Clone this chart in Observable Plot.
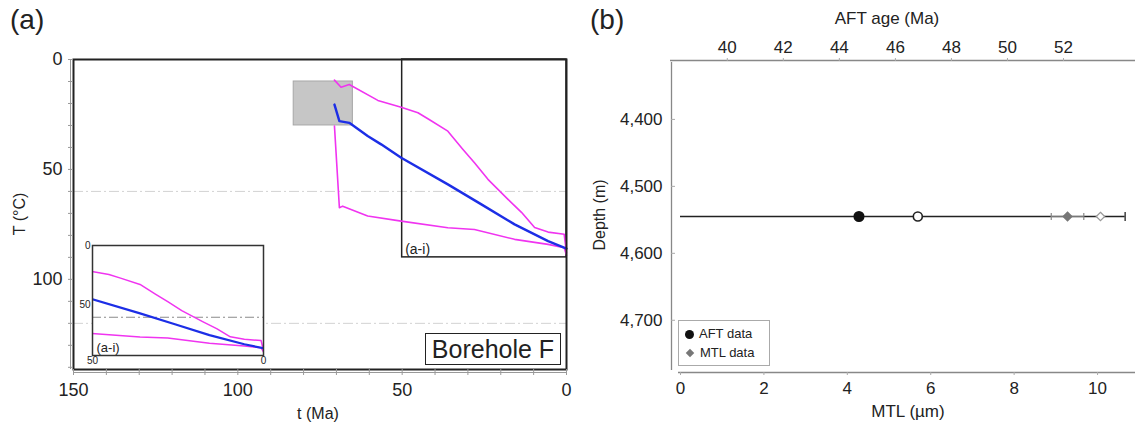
<!DOCTYPE html>
<html><head><meta charset="utf-8">
<script src="https://cdn.jsdelivr.net/npm/d3@7"></script>
<script src="https://cdn.jsdelivr.net/npm/@observablehq/plot@0.6"></script>
<style>
body{margin:0;background:#fff;font-family:"Liberation Sans",Arial,sans-serif;color:#222;}
#wrap{position:relative;width:1142px;height:431px;overflow:hidden;background:#fff;}
.abs{position:absolute;}
.abs svg{overflow:visible;max-width:none;}
.lbl{position:absolute;white-space:nowrap;color:#222;}
</style></head><body><div id="wrap"></div>
<script>
// ---------- Panel (a): thermal history ----------
const bestT    = [70.6, 69.1, 66.1, 60.5, 56.4, 50.3, 36.1, 25.9, 15.8, 5.6, 0];
const bestTemp = [20.5, 28.0, 28.8, 34.8, 38.6, 44.7, 56.8, 65.9, 75.0, 82.6, 86.0];
const coolT    = [70.6, 68.6, 66.1, 57.4, 50.3, 45.2, 41.8, 36.1, 31.5, 28.0, 23.9, 17.8, 13.7, 9.7, 5.6, 0.7, 0];
const coolTemp = [9.4, 12.6, 11.4, 18.6, 21.7, 24.2, 27.3, 32.6, 40.9, 47.0, 54.5, 63.6, 69.5, 76.4, 78.5, 79.5, 88];
const hotT     = [70.6, 69.1, 68.1, 60.5, 50.3, 36.1, 28.0, 15.8, 5.6, 0.7, 0];
const hotTemp  = [30.3, 67.4, 66.7, 71.2, 73.5, 76.5, 77.3, 81.8, 84.1, 85.6, 89];
const constraintT = [65, 83];
const constraintTemp = [10, 30];
const insetWindowT = [0, 50];
const insetWindowTemp = [0, 90];
const refTemps = [60, 120];
const insetRefTemps = [60];
const timeDomain = [150, 0];
const tempDomain = [0, 141];
const insetTempDomain = [0, 92];
const timeTicks = d3.range(0, 151, 10);
const tempTicks = d3.range(0, 141, 10);
const labelledTime = [0, 50, 100, 150];
const labelledTemp = [0, 50, 100];
const insetTimeTicks = [50, 0];
const insetTempTicks = [0, 50];

// ---------- Panel (b): AFT / MTL vs depth ----------
const sampleDepth = [4545];
const aftAge = [44.7];
const aftErr = [9.5];
const aftModel = [46.8];
const mtl = [9.28];
const mtlErr = [0.39];
const mtlModel = [10.07];
const ageDomain = [38.33, 54.57];
const mtlDomain = [0, 10.91];
const depthDomain = [4312, 4778];
const ageTicks = [40, 42, 44, 46, 48, 50, 52];
const mtlTicks = [0, 2, 4, 6, 8, 10];
const depthTicks = [4400, 4500, 4600, 4700];

const MAG = "#f034f0", BLUE = "#1c2ee6";
const zip = (a, b) => a.map((v, i) => ({t: v, T: b[i]}));
const best = zip(bestT, bestTemp), cool = zip(coolT, coolTemp), hot = zip(hotT, hotTemp);
const box = [{x1: constraintT[0], x2: constraintT[1], y1: constraintTemp[0], y2: constraintTemp[1]}];
const win = [{x1: insetWindowT[1], x2: insetWindowT[0], y1: insetWindowTemp[0], y2: insetWindowTemp[1]}];
const vbar = {draw(ctx, size) { const h = Math.sqrt(size) / 2; ctx.moveTo(0, -h); ctx.lineTo(0, h); }};
const FONT = "Liberation Sans, Arial, sans-serif";

const wrap = document.getElementById("wrap");
function place(node, left, top) {
  const d = document.createElement("div");
  d.className = "abs"; d.style.left = left + "px"; d.style.top = top + "px";
  d.appendChild(node); wrap.appendChild(d); return d;
}
function label(text, left, top, css) {
  const d = document.createElement("div");
  d.className = "lbl"; d.textContent = text;
  d.style.left = left + "px"; d.style.top = top + "px";
  Object.assign(d.style, css || {});
  wrap.appendChild(d); return d;
}

// main (a)
const plotA = Plot.plot({
  width: 580, height: 431,
  marginLeft: 73, marginRight: 14, marginTop: 59, marginBottom: 62,
  x: {domain: timeDomain, axis: null},
  y: {domain: tempDomain, reverse: true, axis: null},
  style: {fontFamily: FONT, fontSize: "18px", color: "#222", background: "transparent", overflow: "visible"},
  marks: [
    Plot.ruleY(refTemps, {stroke: "#d2d2d2", strokeDasharray: "10,3,2,3", strokeWidth: 1}),
    Plot.rect(box, {x1: "x1", x2: "x2", y1: "y1", y2: "y2", fill: "#c6c6c6", stroke: "#a6a6a6"}),
    Plot.rect(win, {x1: "x1", x2: "x2", y1: "y1", y2: "y2", fill: "none", stroke: "#222", strokeWidth: 1.5}),
    Plot.line(cool, {x: "t", y: "T", stroke: MAG, strokeWidth: 1.6}),
    Plot.line(hot, {x: "t", y: "T", stroke: MAG, strokeWidth: 1.6}),
    Plot.line(best, {x: "t", y: "T", stroke: BLUE, strokeWidth: 2.4}),
    Plot.text(win, {x: "x1", y: "y2", text: () => "(a-i)", dx: 3, dy: -3, textAnchor: "start", lineAnchor: "bottom", fontSize: 14}),
    Plot.ruleX([timeDomain[0]], {dx: -3, stroke: "#999"}),
    Plot.ruleY([tempDomain[1]], {dy: 3, stroke: "#999"}),
    Plot.frame({stroke: "#222", strokeWidth: 2}),
    Plot.axisX({ticks: timeTicks, tickFormat: d => labelledTime.includes(d) ? d : "", tickSize: 6, tickPadding: 8, stroke: "#999", label: null}),
    Plot.axisY({ticks: tempTicks, tickFormat: d => labelledTemp.includes(d) ? d : "", tickSize: 5, tickPadding: 6, stroke: "#999", label: null})
  ]
});
place(plotA, 0, 0);

// inset (a-i)
const plotInset = Plot.plot({
  width: 215, height: 135,
  marginLeft: 32, marginRight: 12, marginTop: 10, marginBottom: 15,
  x: {domain: [insetWindowT[1], insetWindowT[0]], axis: null},
  y: {domain: insetTempDomain, reverse: true, axis: null},
  style: {fontFamily: FONT, fontSize: "10px", color: "#222", background: "transparent", overflow: "visible"},
  marks: [
    Plot.frame({fill: "white", stroke: "none"}),
    Plot.ruleY(insetRefTemps, {stroke: "#8a8a8a", strokeDasharray: "9,3,2,3", strokeWidth: 1.2}),
    Plot.line(cool, {x: "t", y: "T", stroke: MAG, strokeWidth: 1.5, clip: true}),
    Plot.line(hot, {x: "t", y: "T", stroke: MAG, strokeWidth: 1.5, clip: true}),
    Plot.line(best, {x: "t", y: "T", stroke: BLUE, strokeWidth: 2.2, clip: true}),
    Plot.text(["(a-i)"], {frameAnchor: "bottom-left", dx: 4, dy: -4, textAnchor: "start", lineAnchor: "bottom", fontSize: 13}),
    Plot.frame({stroke: "#333", strokeWidth: 1.5}),
    Plot.axisX({ticks: insetTimeTicks, tickSize: 0, tickPadding: 1, label: null}),
    Plot.axisY({ticks: insetTempTicks, tickSize: 0, tickPadding: 2, label: null})
  ]
});
place(plotInset, 60, 235);

// labels (a)
label("(a)", 10, 4, {fontSize: "28px"});
label("t (Ma)", 318, 414, {fontSize: "16px", transform: "translate(-50%,-50%)"});
label("T (°C)", 20, 214, {fontSize: "16px", transform: "translate(-50%,-50%) rotate(-90deg)"});
label("Borehole F", 425, 333, {fontSize: "25px", width: "134px", height: "30px", lineHeight: "30px", textAlign: "center", border: "1.5px solid #222", background: "#fff"});

// (b) AFT layer (below)
const aftRows = aftAge.map((a, i) => ({depth: sampleDepth[i], age: a, lo: a - aftErr[i], hi: a + aftErr[i], model: aftModel[i]}));
const mtlRows = mtl.map((m, i) => ({depth: sampleDepth[i], mtl: m, lo: m - mtlErr[i], hi: m + mtlErr[i], model: mtlModel[i]}));

const plotAge = Plot.plot({
  width: 562, height: 431,
  marginLeft: 100, marginRight: 7, marginTop: 60, marginBottom: 59,
  x: {domain: ageDomain, axis: null},
  y: {domain: depthDomain, reverse: true, axis: null},
  style: {fontFamily: FONT, fontSize: "17px", color: "#222", background: "transparent", overflow: "visible"},
  marks: [
    Plot.ruleY([depthDomain[0]], {stroke: "#888", strokeWidth: 1.3, insetLeft: -10}),
    Plot.axisX({anchor: "top", ticks: ageTicks, tickSize: 3, tickPadding: 5, stroke: "#aaa", label: null}),
    Plot.ruleY(aftRows, {y: "depth", x1: "lo", x2: "hi", stroke: "#222", strokeWidth: 1.3, clip: true}),
    Plot.dot(aftRows, {x: "hi", y: "depth", symbol: vbar, r: 5, fill: "none", stroke: "#222", strokeWidth: 1.3}),
    Plot.dot(aftRows, {x: "age", y: "depth", r: 4.8, fill: "#111", stroke: "#111"}),
    Plot.dot(aftRows, {x: "model", y: "depth", r: 4.5, fill: "white", stroke: "#222", strokeWidth: 1.6})
  ]
});
place(plotAge, 580, 0);

// (b) MTL layer (above)
const plotMtl = Plot.plot({
  width: 562, height: 431,
  marginLeft: 100, marginRight: 7, marginTop: 60, marginBottom: 59,
  x: {domain: mtlDomain, axis: null},
  y: {domain: depthDomain, reverse: true, axis: null},
  style: {fontFamily: FONT, fontSize: "17px", color: "#222", background: "transparent", overflow: "visible"},
  marks: [
    Plot.ruleX([mtlDomain[0]], {stroke: "#888", strokeWidth: 1.3, dx: -9, insetTop: 2, insetBottom: 2}),
    Plot.ruleY([depthDomain[1]], {stroke: "#888", strokeWidth: 1.3, insetLeft: -2}),
    Plot.axisY({ticks: depthTicks, tickFormat: d3.format(","), tickSize: 4, tickPadding: 9, dx: -5, stroke: "#aaa", label: null}),
    Plot.axisX({ticks: mtlTicks, tickSize: 3, tickPadding: 6, stroke: "#aaa", label: null}),
    Plot.ruleY(mtlRows, {y: "depth", x1: "lo", x2: "hi", stroke: "#777", strokeWidth: 1}),
    Plot.dot(mtlRows, {x: "lo", y: "depth", symbol: vbar, r: 4, fill: "none", stroke: "#888", strokeWidth: 1.2}),
    Plot.dot(mtlRows, {x: "hi", y: "depth", symbol: vbar, r: 4, fill: "none", stroke: "#888", strokeWidth: 1.2}),
    Plot.dot(mtlRows, {x: "mtl", y: "depth", symbol: "diamond2", r: 3.8, fill: "#777", stroke: "#777"}),
    Plot.dot(mtlRows, {x: "model", y: "depth", symbol: "diamond2", r: 3.8, fill: "white", stroke: "#999", strokeWidth: 1.2})
  ]
});
place(plotMtl, 580, 0);

// labels (b)
label("(b)", 590, 4, {fontSize: "28px"});
label("AFT age (Ma)", 887, 19, {fontSize: "17px", transform: "translate(-50%,-50%)"});
label("MTL (µm)", 908, 412, {fontSize: "17px", transform: "translate(-50%,-50%)"});
label("Depth (m)", 600, 215, {fontSize: "16px", transform: "translate(-50%,-50%) rotate(-90deg)"});

// legend (b)
const lg = document.createElement("div");
lg.className = "lbl";
Object.assign(lg.style, {left: "678px", top: "320px", width: "92px", height: "46px", border: "1px solid #aaa", background: "#fff", fontSize: "13px", boxSizing: "border-box"});
lg.innerHTML =
  '<div style="position:absolute;left:6px;top:4px;line-height:17px"><span style="display:inline-block;width:9px;height:9px;border-radius:50%;background:#111;margin-right:5px;vertical-align:-1px"></span>AFT data</div>' +
  '<div style="position:absolute;left:6px;top:23px;line-height:17px"><span style="display:inline-block;width:6px;height:6px;background:#777;transform:rotate(45deg);margin:0 7px 0 2px;vertical-align:1px"></span>MTL data</div>';
wrap.appendChild(lg);
</script>
</body></html>
